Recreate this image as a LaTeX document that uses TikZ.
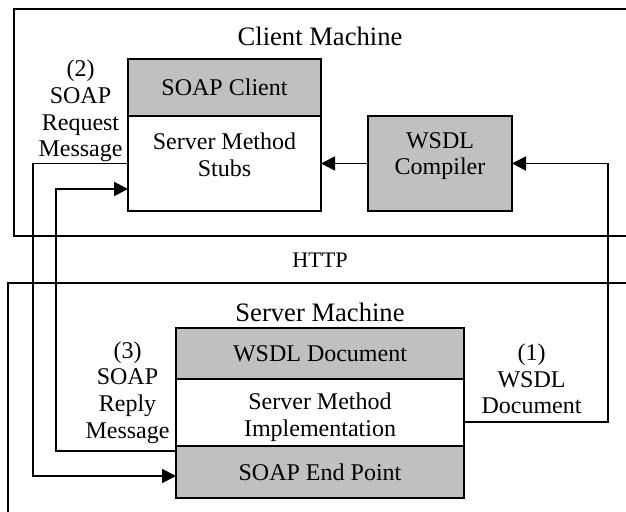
\documentclass[tikz,border=0pt]{standalone}
\usepackage{fontspec}
\setmainfont{Liberation Serif}
\usetikzlibrary{positioning, arrows.meta}
\definecolor{boxgray}{RGB}{192,192,192}

\begin{document}
\begin{tikzpicture}[
        x=0.5pt, y=-0.5pt,
        node distance=0pt and 23.5pt,
        block/.style={rectangle, draw=black, line width=0.9pt, outer sep=0pt, inner sep=0pt, align=center, font=\fontsize{12}{13.3}\selectfont},
        shaded/.style={block, fill=boxgray},
        txt/.style={align=center, inner sep=0pt, font=\fontsize{12}{13.3}\selectfont},
        title/.style={inner sep=0pt, font=\fontsize{13.3}{15}\selectfont},
        frame/.style={draw=black, line width=0.9pt},
        arrow/.style={-{Triangle[length=7pt, width=7pt]}, line width=0.9pt, draw=black}
    ]
    \useasboundingbox (0,0) rectangle (626,512);
    % machines
    \draw[frame] (626,9) -| (14,236) -- (626,236);
    \draw[frame] (626,283) -- (8,283) -- (8,512);
    \node[title] (client) at (320,36) {Client Machine};
    \node[title] (server) at (320,312) {Server Machine};
    \node[txt, font=\fontsize{11.1}{13}\selectfont] (http) at (320,260) {HTTP};
    % client side
    \node[shaded, minimum width=96.5pt, minimum height=28.5pt] (soapclient) at (224.5,87.5) {SOAP Client};
    \node[block, minimum width=96.5pt, minimum height=47.5pt, below=of soapclient] (stubs) {};
    \node[txt] (stubstext) at (224.5,155) {Server Method\\Stubs};
    \node[shaded, minimum width=72pt, minimum height=47.5pt, right=of stubs] (compiler) {};
    \node[txt] (compilertext) at (440,156) {WSDL\\Compiler};
    % server side
    \node[shaded, minimum width=144pt, minimum height=25.5pt] (wsdldoc) at (320,353.5) {WSDL Document};
    \node[block, minimum width=144pt, minimum height=33.5pt, below=of wsdldoc] (impl) {};
    \node[txt] (impltext) at (320,417.5) {Server Method\\Implementation};
    \node[shaded, minimum width=144pt, minimum height=26pt, below=of impl] (endpoint) {SOAP End Point};
    % messages
    \node[txt] (request) at (80.5,111) {(2)\\SOAP\\Request\\Message};
    \node[txt] (reply) at (127.5,392.5) {(3)\\SOAP\\Reply\\Message};
    \node[txt] (wsdlmsg) at (531.5,379) {(1)\\WSDL\\Document};
    \draw[arrow] (compiler) -- (stubs);
    \draw[arrow] ([yshift=-4.75pt]impl.east) -| ([xshift=48pt]compiler.east) -- (compiler.east);
    \draw[arrow] (stubs.west) -- ++(-47.5pt,0) |- ([yshift=-2pt]endpoint.west);
    \draw[arrow] ([yshift=10.5pt]endpoint.west) -- ++(-60pt,0) |- ([yshift=-12.75pt]stubs.west);
\end{tikzpicture}
\end{document}
